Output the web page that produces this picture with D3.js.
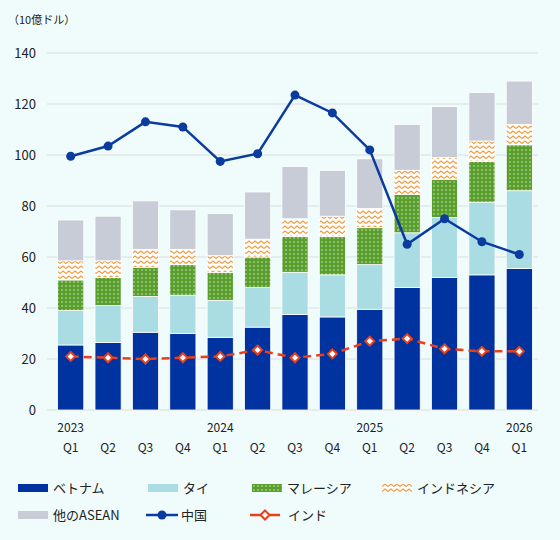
<!DOCTYPE html>
<html><head><meta charset="utf-8">
<script src="https://cdn.jsdelivr.net/npm/d3@7"></script>
<style>body{margin:0;background:#f0fcfc;font-family:"Noto Sans CJK JP","DejaVu Sans",sans-serif;}</style>
</head><body><div id="chart"></div>
<script>
const quarters = ["Q1","Q2","Q3","Q4","Q1","Q2","Q3","Q4","Q1","Q2","Q3","Q4","Q1"];
const years = ["2023","","","","2024","","","","2025","","","","2026"];
const vietnam = [25.5,26.5,30.5,30,28.5,32.5,37.5,36.5,39.5,48,52,53,55.5];
const thai = [13.5,14.5,14,15,14.5,15.5,16.5,16.5,17.5,21.5,23.5,28.5,30.5];
const malaysia = [12,11,11.5,12,11,12,14,15,14.5,15,15,16,18];
const indonesia = [7.5,6.5,7,6,6.5,7,7,8,7.5,9.5,8.5,8,8];
const otherAsean = [16,17.5,19,15.5,16.5,18.5,20.5,18,19.5,18,20,19,17];
const china = [99.5,103.5,113,111,97.5,100.5,123.5,116.5,102,65,75,66,61];
const india = [21,20.5,20,20.5,21,23.5,20.5,22,27,28,24,23,23];
const seriesNames = ["ベトナム","タイ","マレーシア","インドネシア","他のASEAN"];
const yTicks = [0,20,40,60,80,100,120,140];

const W=560,H=540,m={l:52,r:22,t:53,b:130};
const svg=d3.select("#chart").append("svg").attr("width",W).attr("height",H);
const defs=svg.append("defs");
const dots=defs.append("pattern").attr("id","dots").attr("width",4).attr("height",4).attr("patternUnits","userSpaceOnUse");
dots.append("rect").attr("width",4).attr("height",4).attr("fill","#5a9e2e");
dots.append("circle").attr("cx",2).attr("cy",2).attr("r",0.7).attr("fill","#e6f5d8");
const wave=defs.append("pattern").attr("id","wave").attr("width",6).attr("height",5).attr("patternUnits","userSpaceOnUse");
wave.append("rect").attr("width",6).attr("height",5).attr("fill","#fff");
wave.append("path").attr("d","M0,3.5 L3,1 L6,3.5").attr("fill","none").attr("stroke","#f39a3c").attr("stroke-width",1.1);

const x=d3.scaleBand().domain(d3.range(13)).range([m.l,W-m.r]).paddingInner(0.3).paddingOuter(0.15);
const y=d3.scaleLinear().domain([0,140]).range([H-m.b,m.t]);

svg.append("g").selectAll("line").data(yTicks).join("line")
  .attr("x1",m.l-5).attr("x2",W-m.r).attr("y1",d=>y(d)).attr("y2",d=>y(d))
  .attr("stroke","#d8dcdc");
svg.append("g").selectAll("text").data(yTicks).join("text")
  .attr("x",m.l-16).attr("y",d=>y(d)+5).attr("text-anchor","end").attr("font-size",13).attr("fill","#222").text(d=>d);
svg.append("text").attr("x",8).attr("y",24).attr("font-size",11).attr("fill","#222").text("（10億ドル）");

const rows=quarters.map((q,i)=>({i,v:vietnam[i],t:thai[i],m:malaysia[i],n:indonesia[i],o:otherAsean[i]}));
const stack=d3.stack().keys(["v","t","m","n","o"])(rows);
const fills=["#0033a0","#a9dde3","url(#dots)","url(#wave)","#c8ccd6"];
stack.forEach((s,k)=>{
  svg.append("g").selectAll("rect").data(s).join("rect")
    .attr("x",d=>x(d.data.i)).attr("width",x.bandwidth())
    .attr("y",d=>y(d[1])).attr("height",d=>y(d[0])-y(d[1]))
    .attr("fill",fills[k]).attr("stroke","#fff").attr("stroke-width",0.8);
});

const cx=i=>x(i)+x.bandwidth()/2;
const line=d3.line().x((d,i)=>cx(i)).y(d=>y(d));
svg.append("path").datum(china).attr("d",line).attr("fill","none").attr("stroke","#0a3b9e").attr("stroke-width",2.5);
svg.append("g").selectAll("circle").data(china).join("circle").attr("cx",(d,i)=>cx(i)).attr("cy",d=>y(d)).attr("r",4.5).attr("fill","#0a3b9e");
svg.append("path").datum(india).attr("d",line).attr("fill","none").attr("stroke","#e8401c").attr("stroke-width",2.5).attr("stroke-dasharray","8,5");
svg.append("g").selectAll("path.m").data(india).join("path").attr("class","m")
  .attr("transform",(d,i)=>`translate(${cx(i)},${y(d)})`).attr("d","M0,-4.5L4.5,0L0,4.5L-4.5,0Z")
  .attr("fill","#fff").attr("stroke","#e8401c").attr("stroke-width",2);

const xl=svg.append("g");
xl.selectAll("text.y").data(years).join("text").attr("class","y").attr("x",(d,i)=>cx(i)).attr("y",y(0)+22)
  .attr("text-anchor","middle").attr("font-size",12).attr("fill","#222").text(d=>d);
xl.selectAll("text.q").data(quarters).join("text").attr("class","q").attr("x",(d,i)=>cx(i)).attr("y",y(0)+42)
  .attr("text-anchor","middle").attr("font-size",12).attr("fill","#222").text(d=>d);

const leg=[
  {n:seriesNames[0],t:"r",f:fills[0],x:18,y:488},
  {n:seriesNames[1],t:"r",f:fills[1],x:148,y:488},
  {n:seriesNames[2],t:"r",f:fills[2],x:252,y:488},
  {n:seriesNames[3],t:"r",f:fills[3],x:382,y:488},
  {n:seriesNames[4],t:"r",f:fills[4],x:18,y:515},
  {n:"中国",t:"c",x:146,y:515},
  {n:"インド",t:"i",x:250,y:515}];
const lg=svg.append("g").selectAll("g").data(leg).join("g").attr("transform",d=>`translate(${d.x},${d.y})`);
lg.each(function(d){
  const g=d3.select(this);
  if(d.t==="r") g.append("rect").attr("x",0).attr("y",-4).attr("width",30).attr("height",8).attr("fill",d.f);
  else if(d.t==="c"){g.append("line").attr("x2",32).attr("stroke","#0a3b9e").attr("stroke-width",2.5);
    g.append("circle").attr("cx",16).attr("r",4.5).attr("fill","#0a3b9e");}
  else{g.append("line").attr("x2",30).attr("stroke","#e8401c").attr("stroke-width",2.5);
    g.append("path").attr("transform","translate(15,0)").attr("d","M0,-4.5L4.5,0L0,4.5L-4.5,0Z").attr("fill","#fff").attr("stroke","#e8401c").attr("stroke-width",2);}
  g.append("text").attr("x",d.t==="i"?38:35).attr("y",5).attr("font-size",13).attr("fill","#222").text(d.n);
});
</script></body></html>
